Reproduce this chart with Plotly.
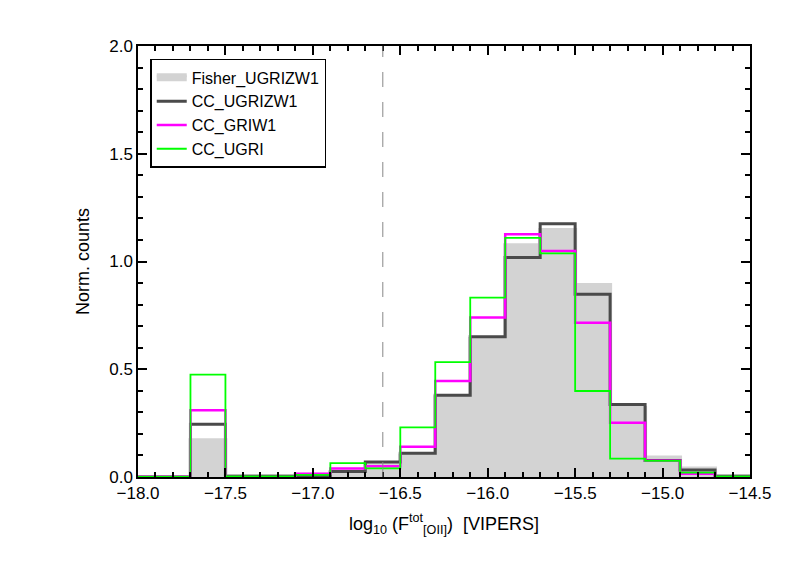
import plotly.graph_objects as go

edges = [-18.1, -17.9, -17.7, -17.5, -17.3, -17.1, -16.9, -16.7, -16.5, -16.3, -16.1,
         -15.9, -15.7, -15.5, -15.3, -15.1, -14.9, -14.7, -14.5]
fisher = [0, 0, 0.17, 0.003, 0.003, 0.01, 0.02, 0.06, 0.10, 0.37, 0.64, 1.075, 1.146, 0.891, 0.32, 0.09, 0.04, 0.003]
cc_ugrizw1 = [0, 0, 0.245, 0.003, 0.003, 0.005, 0.026, 0.07, 0.11, 0.379, 0.651, 1.018, 1.175, 0.848, 0.337, 0.077, 0.033, 0.003]
cc_griw1 = [0, 0, 0.31, 0.0, 0.0, 0.015, 0.039, 0.05, 0.14, 0.445, 0.74, 1.126, 1.049, 0.716, 0.252, 0.075, 0.015, 0.0]
cc_ugri = [0, 0, 0.475, 0.003, 0.003, 0.01, 0.064, 0.04, 0.23, 0.533, 0.832, 1.11, 1.038, 0.399, 0.085, 0.075, 0.02, 0.003]
cut = -16.6

def steps(vals):
    return edges, list(vals) + [vals[-1]]

fig = go.Figure()
x, y = steps(fisher)
fig.add_trace(go.Scatter(x=x, y=y, mode="lines", line=dict(shape="hv", color="#d3d3d3", width=4),
                         fill="tozeroy", fillcolor="#d3d3d3", name="Fisher_UGRIZW1"))
for vals, col, w, nm in [(cc_ugrizw1, "#4a4a4a", 3, "CC_UGRIZW1"),
                         (cc_griw1, "#ff00ff", 2.5, "CC_GRIW1"),
                         (cc_ugri, "#00ff00", 1.8, "CC_UGRI")]:
    x, y = steps(vals)
    fig.add_trace(go.Scatter(x=x, y=y, mode="lines", line=dict(shape="hv", color=col, width=w), name=nm))

fig.add_shape(type="line", x0=cut, x1=cut, y0=0, y1=2, xref="x", yref="y",
              line=dict(color="#888888", width=1, dash="longdash"))

axis_common = dict(showline=True, linecolor="black", linewidth=1.5, mirror="allticks",
                   ticks="inside", ticklen=9, tickwidth=1.5, tickcolor="black",
                   showgrid=False, zeroline=False,
                   tickfont=dict(size=17, color="black"))
fig.update_xaxes(range=[-18, -14.5], dtick=0.5, tickformat=".1f",
                 minor=dict(dtick=0.1, ticks="inside", ticklen=5, tickcolor="black", showgrid=False),
                 title=dict(text="log<sub>10</sub> (F<sup>tot</sup><sub>[OII]</sub>)  [VIPERS]", font=dict(size=18, color="black")),
                 **axis_common)
fig.update_yaxes(range=[0, 2.0], dtick=0.5, tickformat=".1f",
                 minor=dict(dtick=0.1, ticks="inside", ticklen=5, tickcolor="black", showgrid=False),
                 title=dict(text="Norm. counts", font=dict(size=18, color="black")),
                 **axis_common)
fig.update_layout(width=789, height=564, plot_bgcolor="white", paper_bgcolor="white",
                  font=dict(family="Liberation Sans, Arial, sans-serif"),
                  margin=dict(l=130, r=47, t=38, b=95),
                  legend=dict(x=0.02, y=0.97, xanchor="left", yanchor="top", bgcolor="white",
                              bordercolor="black", borderwidth=1.5, font=dict(size=16, color="black"),
                              tracegroupgap=0))
fig.write_html("out.html")
